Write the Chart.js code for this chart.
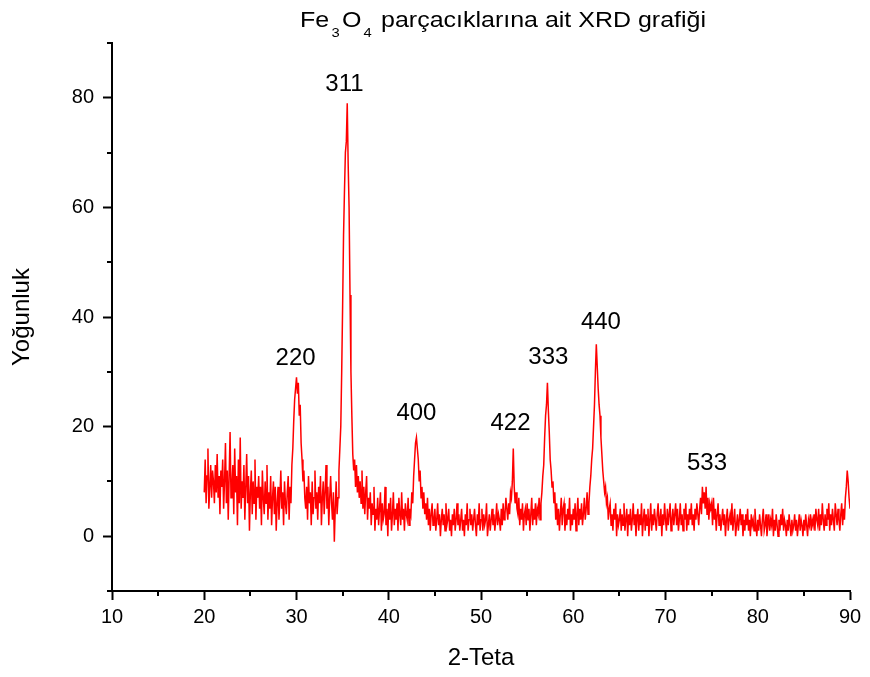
<!DOCTYPE html>
<html>
<head>
<meta charset="utf-8">
<script src="https://cdn.jsdelivr.net/npm/chart.js@4.4.0/dist/chart.umd.min.js"></script>
<style>
  body { margin: 0; background: #fff; }
</style>
</head>
<body>
<canvas id="xrdChart" width="870" height="677"></canvas>
<script>
// measured 2-theta grid: 20.0 .. 90.0, every 0.1 degree
var thetaStart = 20.0;
var thetaStep = 0.1;

// intensity, one row per degree
var counts20s = [
  8, 14, 6, 11, 16, 5, 9, 13, 7, 12,
  10, 6, 13, 8, 15, 7, 11, 4, 12, 9,
  14, 5, 10, 17, 6, 12, 3, 11, 19, 7,
  9, 13, 4, 16, 8, 11, 2, 14, 6, 18,
  5, 10, 7, 13, 3, 9, 15, 6, 11, 1,
  8, 12, 4, 10, 6, 14, 3, 9, 7, 11,
  5, 9, 2, 12, 7, 4, 10, 6, 13, 3,
  8, 5, 11, 2, 7, 10, 4, 9, 1, 6,
  9, 3, 7, 12, 5, 8, 2, 10, 6, 4,
  8, 11, 3, 9, 6, 13, 16, 21, 25, 27
];
var counts30s = [
  29, 26, 28, 22, 24, 17, 14, 10, 12, 7,
  5, 9, 3, 11, 6, 8, 2, 10, 4, 7,
  12, 5, 8, 3, 9, 6, 11, 2, 7, 10,
  4, 8, 13, 5, 9, 2, 7, 11, 6, 3,
  8, -1, 5, 10, 4, 7, 12, 16, 20, 30,
  42, 55, 63, 70, 72, 79, 68, 60, 44, 30,
  22, 15, 12, 14, 9, 13, 8, 11, 7, 10,
  6, 12, 5, 9, 4, 8, 11, 3, 7, 5,
  8, 2, 6, 4, 9, 1, 5, 3, 7, 2,
  5, 8, 1, 6, 3, 4, 9, 2, 5, 0
];
var counts40s = [
  6, 3, 7, 1, 4, 8, 2, 5, 3, 6,
  1, 7, 4, 2, 8, 3, 5, 1, 6, 4,
  3, 7, 2, 5, 4, 8, 6, 11, 14, 17,
  18, 16, 14, 10, 12, 7, 9, 5, 8, 4,
  6, 3, 7, 2, 5, 1, 4, 6, 2, 3,
  5, 1, 3, 6, 2, 4, 0, 3, 5, 2,
  4, 1, 6, 2, 3, 5, 1, 3, 0, 4,
  2, 5, 1, 3, 6, 2, 4, 1, 3, 5,
  1, 3, 0, 4, 2, 6, 1, 3, 5, 2,
  4, 1, 3, 5, 2, 0, 4, 2, 6, 1
];
var counts50s = [
  3, 5, 1, 4, 2, 3, 6, 0, 2, 4,
  1, 3, 5, 2, 4, 1, 3, 6, 2, 4,
  3, 1, 5, 2, 6, 3, 4, 7, 5, 3,
  6, 4, 8, 7, 10, 16, 9, 6, 8, 5,
  4, 7, 2, 5, 3, 6, 1, 4, 5, 2,
  6, 3, 5, 1, 4, 7, 2, 5, 3, 6,
  2, 5, 4, 7, 3, 6, 8, 11, 13, 18,
  22, 24, 28, 23, 19, 14, 12, 9, 10, 6,
  8, 3, 6, 2, 5, 1, 4, 7, 2, 5,
  6, 1, 4, 2, 5, 3, 7, 1, 4, 2
];
var counts60s = [
  5, 3, 6, 1, 4, 7, 2, 5, 3, 6,
  2, 4, 7, 3, 5, 8, 4, 6, 9, 11,
  14, 16, 20, 24, 30, 35, 31, 27, 24, 22,
  18, 15, 12, 10, 8, 9, 6, 7, 3, 5,
  6, 2, 4, 1, 5, 3, 6, 0, 4, 2,
  3, 5, 1, 4, 2, 6, 1, 3, 5, 0,
  4, 2, 5, 1, 3, 6, 2, 4, 0, 3,
  5, 1, 4, 2, 6, 0, 3, 5, 1, 4,
  2, 5, 0, 3, 6, 1, 4, 2, 5, 3,
  1, 4, 6, 2, 3, 5, 0, 4, 2, 6
];
var counts70s = [
  3, 1, 5, 2, 4, 6, 1, 3, 5, 2,
  4, 6, 2, 5, 1, 3, 6, 2, 4, 1,
  5, 3, 6, 1, 4, 2, 5, 3, 6, 2,
  4, 1, 5, 3, 6, 4, 2, 5, 7, 4,
  9, 6, 8, 5, 9, 4, 7, 3, 6, 5,
  6, 2, 7, 3, 5, 1, 4, 6, 2, 4,
  1, 3, 5, 2, 4, 0, 3, 5, 1, 3,
  4, 2, 6, 1, 3, 5, 0, 2, 4, 1,
  3, 5, 2, 4, 0, 3, 1, 4, 2, 5,
  1, 3, 0, 4, 2, 3, 1, 5, 2, 0
];
var counts80s = [
  3, 1, 4, 2, 0, 3, 5, 1, 2, 4,
  0, 2, 4, 1, 3, 2, 5, 0, 3, 1,
  4, 2, 0, 3, 1, 4, 2, 5, 1, 3,
  2, 0, 3, 1, 4, 2, 0, 3, 1, 2,
  4, 1, 3, 0, 2, 4, 1, 3, 2, 0,
  3, 1, 4, 2, 0, 3, 2, 4, 1, 3,
  2, 4, 1, 5, 3, 2, 5, 1, 4, 2,
  6, 3, 1, 4, 2, 5, 3, 6, 1, 4,
  2, 5, 3, 1, 6, 4, 2, 5, 3, 1,
  4, 6, 2, 5, 3, 7, 9, 12, 10, 7,
  5
];

// peak indices (hkl) and where their labels sit
var peakLabels = ['220', '311', '400', '422', '333', '440', '533'];
var peakLabelX = [29.9, 35.2, 43.0, 53.2, 57.3, 63.0, 74.5];
var peakLabelY = [32.4, 82.5, 22.4, 20.6, 32.6, 39.0, 13.3];

var xTicks = [10, 20, 30, 40, 50, 60, 70, 80, 90];
var xMinorTicks = [15, 25, 35, 45, 55, 65, 75, 85];
var yTicks = [0, 20, 40, 60, 80];
var yMinorTicks = [-10, 10, 30, 50, 70, 90];

var titleParts = [['Fe', false], ['3', true], ['O', false], ['4', true], [' parçacıklarına ait XRD grafiği', false]];

var FONT = '"Liberation Sans", Arial, Helvetica, sans-serif';

var counts = counts20s.concat(counts30s, counts40s, counts50s, counts60s, counts70s, counts80s);
var points = [];
for (var i = 0; i < counts.length; i++) {
  points.push({ x: +(thetaStart + i * thetaStep).toFixed(1), y: counts[i] });
}

var extrasPlugin = {
  id: 'xrdExtras',
  afterDraw: function(chart) {
    var ctx = chart.ctx;
    var xs = chart.scales.x, ys = chart.scales.y;
    var area = chart.chartArea;
    ctx.save();

    // minor ticks
    ctx.strokeStyle = '#000';
    ctx.lineWidth = 2;
    ctx.beginPath();
    xMinorTicks.forEach(function(v) {
      var px = Math.round(xs.getPixelForValue(v));
      ctx.moveTo(px, area.bottom);
      ctx.lineTo(px, area.bottom + 5);
    });
    yMinorTicks.forEach(function(v) {
      var py = Math.round(ys.getPixelForValue(v));
      ctx.moveTo(area.left, py);
      ctx.lineTo(area.left - 5, py);
    });
    ctx.stroke();

    // peak labels
    ctx.fillStyle = '#000';
    ctx.font = '24px ' + FONT;
    ctx.textAlign = 'center';
    ctx.textBaseline = 'middle';
    for (var i = 0; i < peakLabels.length; i++) {
      ctx.fillText(peakLabels[i], xs.getPixelForValue(peakLabelX[i]), ys.getPixelForValue(peakLabelY[i]));
    }

    // title with subscripts, stretched a little wide like the original
    ctx.textAlign = 'left';
    ctx.textBaseline = 'alphabetic';
    var total = 0;
    titleParts.forEach(function(p) {
      ctx.font = (p[1] ? '13px ' : '22px ') + FONT;
      total += ctx.measureText(p[0]).width + (p[1] ? 4 : 0);
    });
    var left = 300, right = 706, base = 27;
    ctx.translate(left, 0);
    ctx.scale((right - left) / total, 1);
    var tx = 0;
    titleParts.forEach(function(p) {
      ctx.font = (p[1] ? '13px ' : '22px ') + FONT;
      if (p[1]) tx += 2;
      ctx.fillText(p[0], tx, p[1] ? base + 10 : base);
      tx += ctx.measureText(p[0]).width + (p[1] ? 2 : 0);
    });
    ctx.restore();
  }
};

var ctx = document.getElementById('xrdChart').getContext('2d');
var myChart = new Chart(ctx, {
  type: 'line',
  data: {
    datasets: [{
      data: points,
      borderColor: '#ff0000',
      borderWidth: 1.5,
      pointRadius: 0,
      tension: 0,
      fill: false
    }]
  },
  options: {
    responsive: false,
    animation: false,
    layout: { padding: { top: 43, right: 20, left: 0, bottom: 0 } },
    plugins: { legend: { display: false }, tooltip: { enabled: false } },
    scales: {
      x: {
        type: 'linear',
        min: 10, max: 90,
        afterBuildTicks: function(s) { s.ticks = xTicks.map(function(v) { return { value: v }; }); },
        afterFit: function(s) { s.height = 86; },
        border: { display: true, color: '#000', width: 2 },
        grid: { drawOnChartArea: false, drawTicks: true, tickLength: 9, tickColor: '#000', tickWidth: 2 },
        ticks: { color: '#000', font: { family: FONT, size: 20 }, padding: 5, maxRotation: 0 },
        title: { display: true, text: '2-Teta', color: '#000', font: { family: FONT, size: 24 }, padding: { top: 0, bottom: 4 } }
      },
      y: {
        type: 'linear',
        min: -10, max: 90,
        afterBuildTicks: function(s) { s.ticks = yTicks.map(function(v) { return { value: v }; }); },
        afterFit: function(s) { s.width = 112; },
        border: { display: true, color: '#000', width: 2 },
        grid: { drawOnChartArea: false, drawTicks: true, tickLength: 9, tickColor: '#000', tickWidth: 2 },
        ticks: { color: '#000', font: { family: FONT, size: 20 }, padding: 9 },
        title: { display: true, text: 'Yoğunluk', color: '#000', font: { family: FONT, size: 24 }, padding: { top: 8, bottom: 0 } }
      }
    }
  },
  plugins: [extrasPlugin]
});
</script>
</body>
</html>
